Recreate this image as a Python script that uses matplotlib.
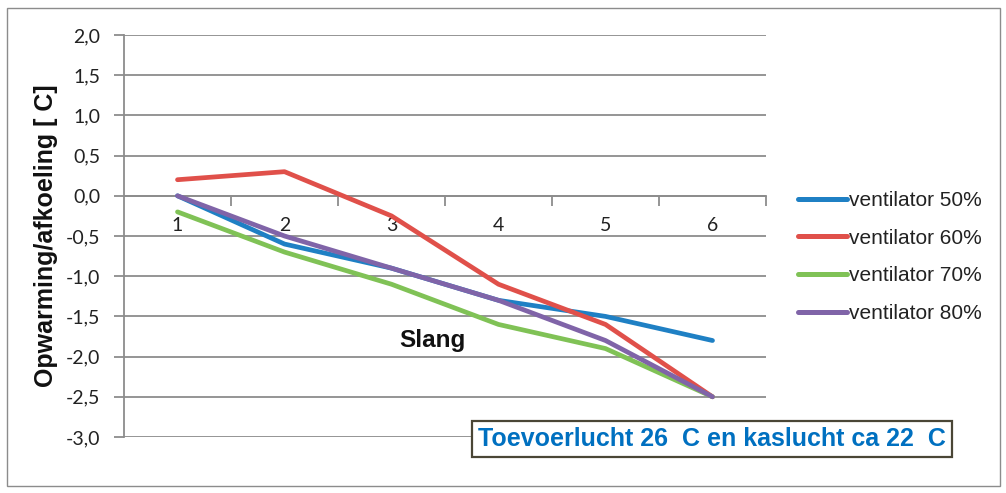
import matplotlib
matplotlib.use("Agg")
import matplotlib.pyplot as plt
from matplotlib.patches import Rectangle

categories = ["1", "2", "3", "4", "5", "6"]
series_names = ["ventilator 50%", "ventilator 60%", "ventilator 70%", "ventilator 80%"]
v50 = [0.0, -0.6, -0.9, -1.3, -1.5, -1.8]
v60 = [0.2, 0.3, -0.25, -1.1, -1.6, -2.5]
v70 = [-0.2, -0.7, -1.1, -1.6, -1.9, -2.5]
v80 = [0.0, -0.5, -0.9, -1.3, -1.8, -2.5]
y_ticks = [2.0, 1.5, 1.0, 0.5, 0.0, -0.5, -1.0, -1.5, -2.0, -2.5, -3.0]
colors = ["#1f80c4", "#e0504a", "#80c256", "#8064a8"]

W, H = 1006, 493
fig = plt.figure(figsize=(W / 100, H / 100), dpi=100)
fig.patch.set_facecolor("white")
fig.patches.append(Rectangle((7 / W, 1 - 486 / H), 993 / W, 478 / H, transform=fig.transFigure,
                             fill=False, edgecolor="#8c8c8c", linewidth=1.0))

ax = fig.add_axes([124 / W, 1 - 437 / H, 642 / W, 402 / H])
x = list(range(len(categories)))
for vals, c, name in zip([v50, v60, v70, v80], colors, series_names):
    ax.plot(x, vals, color=c, linewidth=3.4, label=name, solid_capstyle="round", zorder=3)

ax.set_xlim(-0.5, len(categories) - 0.5)
ax.set_ylim(-3.0, 2.0)
ax.set_yticks(y_ticks)
ax.set_yticklabels([f"{v:.1f}".replace(".", ",") for v in y_ticks],
                   fontfamily="Lato", fontsize=14, color="#222222")
ax.yaxis.grid(True, color="#8c8c8c", linewidth=1.3, zorder=1)
ax.tick_params(axis="y", length=7, width=1.3, color="#8c8c8c", pad=10)

for s in ["top", "right"]:
    ax.spines[s].set_visible(False)
ax.spines["left"].set_color("#8c8c8c")
ax.spines["left"].set_linewidth(1.3)
ax.spines["bottom"].set_position(("data", 0))
ax.spines["bottom"].set_color("#8c8c8c")
ax.spines["bottom"].set_linewidth(1.3)

ax.set_xticks([i + 0.5 for i in x])
ax.set_xticklabels([])
ax.tick_params(axis="x", which="major", length=7, width=1.3, color="#8c8c8c", direction="out")
ax.set_xticks(x, minor=True)
ax.set_xticklabels(categories, minor=True, fontfamily="Lato", fontsize=14, color="#222222")
ax.tick_params(axis="x", which="minor", length=0, pad=15)

ax.set_ylabel("Opwarming/afkoeling [ C]", fontfamily="Liberation Sans", fontweight="bold",
              fontsize=18, color="#111111")
ax.yaxis.set_label_coords(-66 / 642, 0.5)

ax.text(2.38, -1.80, "Slang", ha="center", va="center", fontfamily="Liberation Sans",
        fontweight="bold", fontsize=17.5, color="#111111")

leg = fig.legend(loc="center left", bbox_to_anchor=(779 / W, 1 - 257 / H), frameon=False,
                 prop={"family": "Liberation Sans", "size": 15}, handlelength=2.35,
                 handletextpad=0.1, labelspacing=0.9, labelcolor="#222222")
for h in leg.get_lines():
    h.set_linewidth(3.6)

fig.text(712 / W, 1 - 439 / H, "Toevoerlucht 26  C en kaslucht ca 22  C", ha="center", va="center",
         fontfamily="Liberation Sans", fontweight="bold", fontsize=18, color="#0070c0",
         bbox=dict(boxstyle="square,pad=0.25", facecolor="white", edgecolor="#4a4636", linewidth=1.6))

fig.savefig("out.png", dpi=100)
